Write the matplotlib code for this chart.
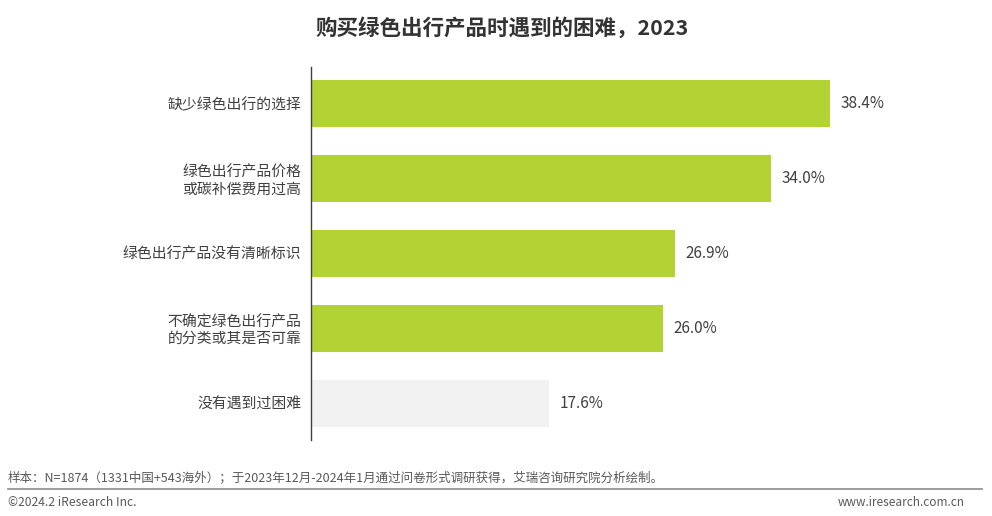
import matplotlib
matplotlib.use("Agg")
import matplotlib.pyplot as plt
from matplotlib.lines import Line2D

plt.rcParams["font.family"] = ["Noto Sans CJK SC", "DejaVu Sans"]

# ── data ───────────────────────────────────────────────────────────────────────
CATEGORIES = [
    "缺少绿色出行的选择",
    "绿色出行产品价格\n或碳补偿费用过高",
    "绿色出行产品没有清晰标识",
    "不确定绿色出行产品\n的分类或其是否可靠",
    "没有遇到过困难",
]
VALUES = [38.4, 34.0, 26.9, 26.0, 17.6]
HIGHLIGHT = [True, True, True, True, False]

TITLE = "购买绿色出行产品时遇到的困难，2023"
NOTE = "样本：N=1874（1331中国+543海外）；于2023年12月-2024年1月通过问卷形式调研获得，艾瑞咨询研究院分析绘制。"
COPYRIGHT = "©2024.2 iResearch Inc."
SITE = "www.iresearch.com.cn"

GREEN = "#b3d334"
GRAY = "#f2f2f2"
TEXT = "#404040"

# ── figure ─────────────────────────────────────────────────────────────────────
fig = plt.figure(figsize=(9.92, 5.16), dpi=100)
fig.patch.set_facecolor("white")
ax = fig.add_axes([311 / 992, 76 / 516, 649 / 992, 373 / 516])

ys = list(range(len(CATEGORIES)))
colors = [GREEN if h else GRAY for h in HIGHLIGHT]
ax.barh(ys, VALUES, height=0.63, color=colors, edgecolor="none")

for y, v in zip(ys, VALUES):
    ax.text(v + 0.8, y, f"{v:.1f}%", va="center", ha="left",
            fontsize=11, color=TEXT)

ax.set_xlim(0, 48)
ax.set_ylim(len(CATEGORIES) - 0.507, -0.493)
ax.set_yticks(ys)
ax.set_yticklabels(CATEGORIES, fontsize=10.7, color=TEXT, linespacing=1.2)
ax.tick_params(axis="y", length=0, pad=7)
ax.set_xticks([])
for side in ("top", "right", "bottom"):
    ax.spines[side].set_visible(False)
ax.spines["left"].set_color("#404040")
ax.spines["left"].set_linewidth(1.0)

fig.text(502 / 992, 1 - 28 / 516, TITLE, ha="center", va="center",
         fontsize=15.5, fontweight="bold", color="#333333")

# ── footer ─────────────────────────────────────────────────────────────────────
fig.text(8 / 992, 1 - 478 / 516, NOTE, ha="left", va="center",
         fontsize=9, color="#595959")
fig.add_artist(Line2D([8 / 992, 982 / 992], [1 - 489 / 516] * 2,
                      color="#8c8c8c", linewidth=1.2))
fig.text(8 / 992, 1 - 502 / 516, COPYRIGHT, ha="left", va="center",
         fontsize=8.7, color="#595959")
fig.text(965 / 992, 1 - 502 / 516, SITE, ha="right", va="center",
         fontsize=8.5, color="#595959")

fig.savefig("out.png", dpi=100, facecolor=fig.get_facecolor())
